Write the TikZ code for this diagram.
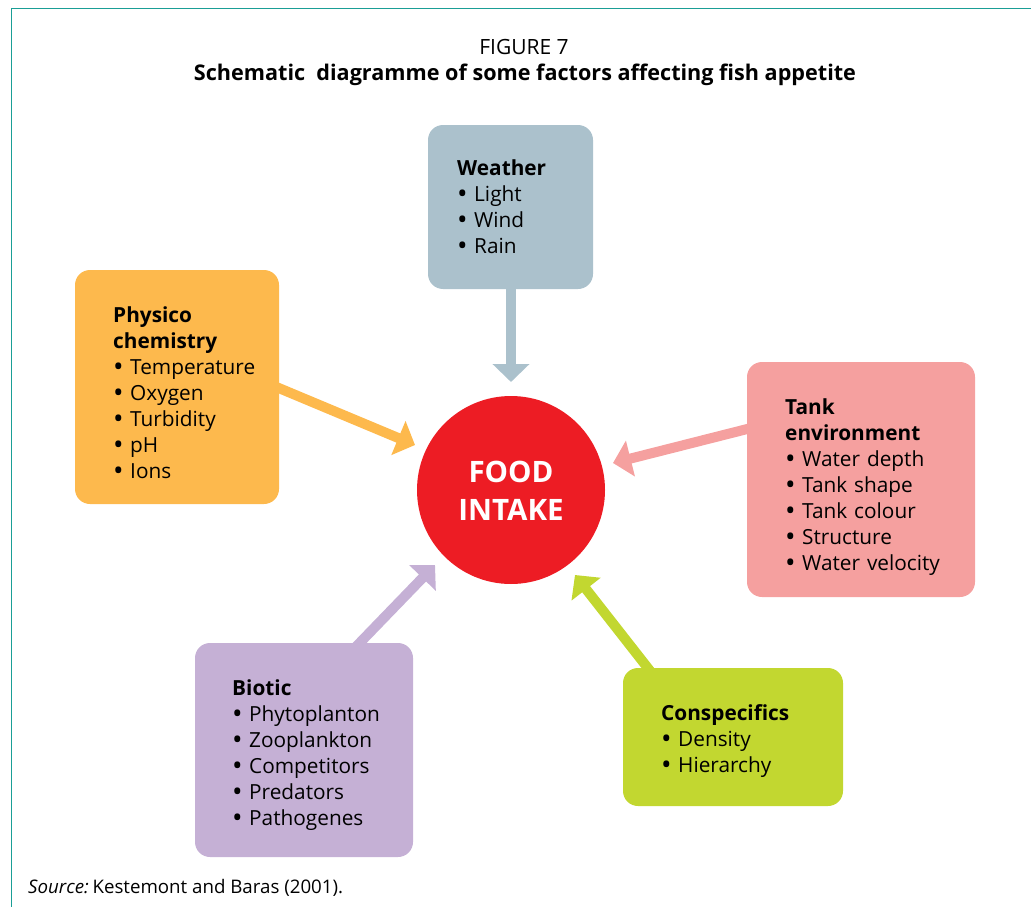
\documentclass[tikz,border=0pt]{standalone}
\usepackage{fontspec}
\setmainfont{Open Sans}
\usetikzlibrary{arrows.meta,backgrounds}
\definecolor{frameteal}{HTML}{1A9E96}
\definecolor{wcol}{HTML}{ABC1CC}
\definecolor{pcol}{HTML}{FDB94D}
\definecolor{tcol}{HTML}{F5A09F}
\definecolor{bcol}{HTML}{C5B0D5}
\definecolor{ccol}{HTML}{C2D730}
\definecolor{foodred}{HTML}{ED1C24}
\newcommand\bul{\makebox[17pt][l]{\raisebox{-2.3pt}{\fontsize{28}{28}\selectfont •}}}
\tikzset{
  factorbox/.style={rectangle, rounded corners=15pt, inner sep=0pt},
  boxtext/.style={anchor=base west, inner sep=0pt, text width=230pt, align=left,
    font=\fontsize{20.8}{26.1}\selectfont},
  factorarrow/.style={line width=10pt, -{Triangle[width=36pt,length=18pt]}},
}
\begin{document}
\begin{tikzpicture}[x=1pt,y=-1pt]
\useasboundingbox (0,0) rectangle (1031,907);
% frame
\draw[frameteal, line width=1.5pt] (11.5,907) -- (11.5,8.5) -- (1031,8.5);
% titles
\node[anchor=base, inner sep=0pt, font=\fontsize{21}{24}\selectfont] (title) at (524,55) {FIGURE 7};
\node[anchor=base, inner sep=0pt, font=\fontsize{21.6}{24}\selectfont\bfseries] (subtitle) at (525,81) {Schematic\ \ diagramme of some factors affecting fish appetite};
% boxes
\node[factorbox, fill=wcol, minimum width=165pt, minimum height=164pt] (weather) at (510.5,207) {};
\node[factorbox, fill=pcol, minimum width=204pt, minimum height=234pt] (phys) at (177,387) {};
\node[factorbox, fill=tcol, minimum width=228pt, minimum height=235pt] (tank) at (861,479.5) {};
\node[factorbox, fill=bcol, minimum width=218pt, minimum height=214pt] (biotic) at (304,750) {};
\node[factorbox, fill=ccol, minimum width=220pt, minimum height=138pt] (consp) at (733,737) {};
% centre
\node[circle, fill=foodred, minimum size=188pt, inner sep=0pt] (food) at (511,490) {};
\node[align=center, text=white, inner sep=0pt, anchor=base, font=\fontsize{29.5}{38}\selectfont\bfseries] (foodtext) at (511,520) {FOOD\\INTAKE};
% arrow anchor coordinates
\coordinate (wS) at (511,278);
\coordinate (wE) at (511,382);
\coordinate (pS) at (262,381);
\coordinate (pE) at (415,445);
\coordinate (tS) at (767,424);
\coordinate (tE) at (613,463);
\coordinate (bS) at (348,655);
\coordinate (bE) at (435,565);
\coordinate (cS) at (658,681);
\coordinate (cE) at (575,575);
\begin{scope}[on background layer]
\draw[factorarrow, wcol] (wS) -- (wE);
\draw[factorarrow, pcol] (pS) -- (pE);
\draw[factorarrow, tcol] (tS) -- (tE);
\draw[factorarrow, bcol] (bS) -- (bE);
\draw[factorarrow, ccol] (cS) -- (cE);
\end{scope}
% texts
\node[boxtext] (weatherT) at (457,175) {\textbf{Weather}\\\bul Light\\\bul Wind\\\bul Rain};
\node[boxtext] (physT) at (113,322) {\textbf{Physico}\\\textbf{chemistry}\\\bul Temperature\\\bul Oxygen\\\bul Turbidity\\\bul pH\\\bul Ions};
\node[boxtext] (tankT) at (785,414) {\textbf{Tank}\\\textbf{environment}\\\bul Water depth\\\bul Tank shape\\\bul Tank colour\\\bul Structure\\\bul Water velocity};
\node[boxtext] (bioticT) at (232,695) {\textbf{Biotic}\\\bul Phytoplanton\\\bul Zooplankton\\\bul Competitors\\\bul Predators\\\bul Pathogenes};
\node[boxtext] (conspT) at (661,720) {\textbf{Conspecifics}\\\bul Density\\\bul Hierarchy};
% source
\node[anchor=base west, inner sep=0pt, font=\fontsize{18.7}{22}\selectfont] (source) at (28,893) {\textit{Source:}\hspace{0.2em}Kestemont and Baras (2001).};
\end{tikzpicture}
\end{document}
